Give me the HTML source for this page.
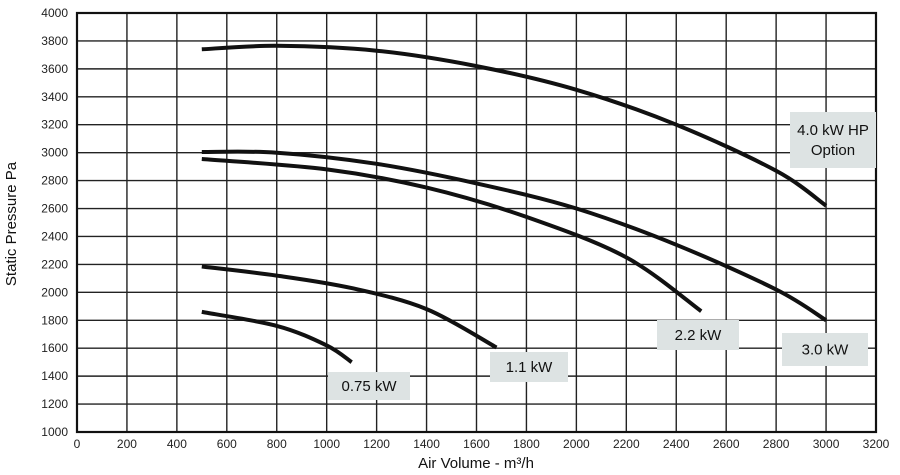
<!DOCTYPE html>
<html><head><meta charset="utf-8"><style>
body{margin:0;background:#fff;}
svg{display:block;font-family:"Liberation Sans Narrow","Liberation Sans",sans-serif;}
</style></head><body>
<svg id="chart" width="900" height="475"></svg>
<script>
const xTicks=[0,200,400,600,800,1000,1200,1400,1600,1800,2000,2200,2400,2600,2800,3000,3200];
const yTicks=[1000,1200,1400,1600,1800,2000,2200,2400,2600,2800,3000,3200,3400,3600,3800,4000];
const seriesNames=["4.0 kW HP Option","3.0 kW","2.2 kW","1.1 kW","0.75 kW"];
const x40=[500,800,1200,1600,2000,2400,2800,3000];
const y40=[3740,3765,3730,3620,3450,3200,2870,2620];
const x30=[500,800,1200,1600,2000,2400,2800,3000];
const y30=[3005,3000,2920,2780,2600,2340,2020,1800];
const x22=[500,1000,1400,1800,2200,2500];
const y22=[2955,2880,2750,2540,2250,1865];
const x11=[500,800,1100,1400,1680];
const y11=[2185,2120,2030,1880,1605];
const x075=[500,800,1000,1100];
const y075=[1860,1760,1620,1500];
const L=77,R=876,T=13,B=432;
const sx=v=>L+(v-0)/(3200-0)*(R-L);
const sy=v=>B-(v-1000)/(4000-1000)*(B-T);
const NS="http://www.w3.org/2000/svg";
const svg=document.getElementById('chart');
function mk(t,a,txt){const e=document.createElementNS(NS,t);for(const k in a)e.setAttribute(k,a[k]);if(txt!==undefined)e.textContent=txt;svg.appendChild(e);return e;}
xTicks.forEach(v=>{
 const g=mk('line',{x1:sx(v),x2:sx(v),y1:T,y2:B,stroke:'#222','stroke-width':1.4});
 
 
 const t=mk('text',{x:sx(v),y:448,'text-anchor':'middle','font-size':12,fill:'#222'},v);
 
 
});
yTicks.forEach(v=>{
 const g=mk('line',{x1:L,x2:R,y1:sy(v),y2:sy(v),stroke:'#222','stroke-width':1.4});
 
 
 const t=mk('text',{x:68,y:sy(v)+4,'text-anchor':'end','font-size':12,fill:'#222'},v);
 
 
});
const fr=mk('rect',{x:L,y:T,width:R-L,height:B-T,fill:'none',stroke:'#111','stroke-width':2.2});


function curve(xs,ys,name){
 const P=xs.map((x,i)=>[sx(x),sy(ys[i])]);
 let d='M'+P[0][0].toFixed(1)+','+P[0][1].toFixed(1);
 for(let i=0;i<P.length-1;i++){
  const p0=P[Math.max(0,i-1)],p1=P[i],p2=P[i+1],p3=P[Math.min(P.length-1,i+2)];
  const c1=[p1[0]+(p2[0]-p0[0])/6,p1[1]+(p2[1]-p0[1])/6];
  const c2=[p2[0]-(p3[0]-p1[0])/6,p2[1]-(p3[1]-p1[1])/6];
  d+='C'+c1[0].toFixed(1)+','+c1[1].toFixed(1)+' '+c2[0].toFixed(1)+','+c2[1].toFixed(1)+' '+p2[0].toFixed(1)+','+p2[1].toFixed(1);
 }
 const p=mk('path',{d:d,fill:'none',stroke:'#111','stroke-width':4,'stroke-linejoin':'round'});
 
 
}
curve(x40,y40,'curve-4-0-kw');
curve(x30,y30,'curve-3-0-kw');
curve(x22,y22,'curve-2-2-kw');
curve(x11,y11,'curve-1-1-kw');
curve(x075,y075,'curve-0-75-kw');
function label(x,y,w,h,lines,name){
 const r=mk('rect',{x:x,y:y,width:w,height:h,fill:'#dde3e3'});
 
 
 lines.forEach((s,i)=>{
  const t=mk('text',{x:x+w/2,y:y+h/2+5+(i-(lines.length-1)/2)*20,'text-anchor':'middle','font-size':15,fill:'#111'},s);
  
  
 });
}
label(328,372,82,28,['0.75 kW'],'label-0-75-kw');
label(490,352,78,30,['1.1 kW'],'label-1-1-kw');
label(657,320,82,30,['2.2 kW'],'label-2-2-kw');
label(782,333,86,33,['3.0 kW'],'label-3-0-kw');
label(790,112,86,56,['4.0 kW HP','Option'],'label-4-0-kw');
const xt=mk('text',{x:476,y:468,'text-anchor':'middle','font-size':15,fill:'#111'},'Air Volume - m³/h');


const yt=mk('text',{x:0,y:0,'text-anchor':'middle','font-size':15,fill:'#111',transform:'translate(16,224) rotate(-90)'},'Static Pressure Pa');


</script>
</body></html>
